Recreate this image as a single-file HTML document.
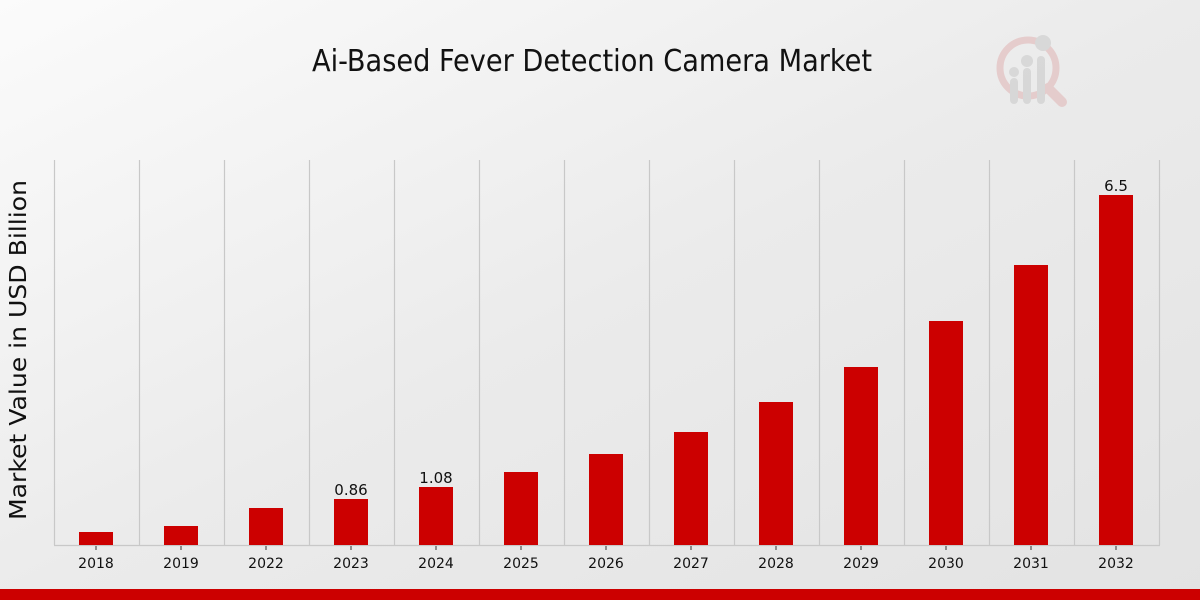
<!DOCTYPE html>
<html><head><meta charset="utf-8"><style>
html,body{margin:0;padding:0;}
body{width:1200px;height:600px;overflow:hidden;background:#eaeaea;font-family:"DejaVu Sans","Liberation Sans",sans-serif;}
</style></head><body>
<svg width="1200" height="600" viewBox="0 0 1200 600" xmlns="http://www.w3.org/2000/svg" style="position:absolute;left:0;top:0">
<defs><linearGradient id="bg" x1="0" y1="0" x2="1" y2="1"><stop offset="0" stop-color="#fbfbfb"/><stop offset="0.5" stop-color="#ebebeb"/><stop offset="1" stop-color="#e3e3e3"/></linearGradient></defs>
<rect width="1200" height="600" fill="url(#bg)"/>
<text x="592" y="71" text-anchor="middle" font-family="DejaVu Sans Condensed, DejaVu Sans, sans-serif" font-stretch="condensed" font-size="30" fill="#111" textLength="560" lengthAdjust="spacingAndGlyphs">Ai-Based Fever Detection Camera Market</text>
<g opacity="0.55">
<circle cx="1028" cy="68" r="28" fill="none" stroke="#e0b3b3" stroke-width="7"/>
<line x1="1048" y1="88" x2="1062" y2="102" stroke="#e0b3b3" stroke-width="10" stroke-linecap="round"/>
<rect x="1010" y="78" width="8" height="26" rx="4" fill="#c8c8c8"/>
<rect x="1023" y="68" width="8" height="36" rx="4" fill="#c8c8c8"/>
<rect x="1037" y="56" width="8" height="48" rx="4" fill="#c8c8c8"/>
<circle cx="1014" cy="72" r="5" fill="#c8c8c8"/><circle cx="1027" cy="61" r="6" fill="#c8c8c8"/><circle cx="1043" cy="43" r="8" fill="#c8c8c8"/>
</g>
<text transform="translate(26,350) rotate(-90)" text-anchor="middle" font-size="23" fill="#111" textLength="340" lengthAdjust="spacingAndGlyphs">Market Value in USD Billion</text>
<g stroke="#c8c8c8" stroke-width="1.2">
<line x1="54.5" y1="160" x2="54.5" y2="545"/><line x1="139.5" y1="160" x2="139.5" y2="545"/><line x1="224.5" y1="160" x2="224.5" y2="545"/><line x1="309.5" y1="160" x2="309.5" y2="545"/><line x1="394.5" y1="160" x2="394.5" y2="545"/><line x1="479.5" y1="160" x2="479.5" y2="545"/><line x1="564.5" y1="160" x2="564.5" y2="545"/><line x1="649.5" y1="160" x2="649.5" y2="545"/><line x1="734.5" y1="160" x2="734.5" y2="545"/><line x1="819.5" y1="160" x2="819.5" y2="545"/><line x1="904.5" y1="160" x2="904.5" y2="545"/><line x1="989.5" y1="160" x2="989.5" y2="545"/><line x1="1074.5" y1="160" x2="1074.5" y2="545"/><line x1="1159.5" y1="160" x2="1159.5" y2="545"/>
<line x1="54" y1="545.5" x2="1160" y2="545.5"/>
</g>
<g fill="#cc0000">
<rect x="79" y="532" width="34" height="13"/>
<rect x="164" y="526" width="34" height="19"/>
<rect x="249" y="508" width="34" height="37"/>
<rect x="334" y="499" width="34" height="46"/>
<rect x="419" y="487" width="34" height="58"/>
<rect x="504" y="472" width="34" height="73"/>
<rect x="589" y="454" width="34" height="91"/>
<rect x="674" y="432" width="34" height="113"/>
<rect x="759" y="402" width="34" height="143"/>
<rect x="844" y="367" width="34" height="178"/>
<rect x="929" y="321" width="34" height="224"/>
<rect x="1014" y="265" width="34" height="280"/>
<rect x="1099" y="195" width="34" height="350"/>
</g>
<g stroke="#333" stroke-width="1">
<line x1="96" y1="546" x2="96" y2="550"/><line x1="181" y1="546" x2="181" y2="550"/><line x1="266" y1="546" x2="266" y2="550"/><line x1="351" y1="546" x2="351" y2="550"/><line x1="436" y1="546" x2="436" y2="550"/><line x1="521" y1="546" x2="521" y2="550"/><line x1="606" y1="546" x2="606" y2="550"/><line x1="691" y1="546" x2="691" y2="550"/><line x1="776" y1="546" x2="776" y2="550"/><line x1="861" y1="546" x2="861" y2="550"/><line x1="946" y1="546" x2="946" y2="550"/><line x1="1031" y1="546" x2="1031" y2="550"/><line x1="1116" y1="546" x2="1116" y2="550"/>
</g>
<g font-size="14" fill="#111" text-anchor="middle">
<text x="96" y="568">2018</text><text x="181" y="568">2019</text><text x="266" y="568">2022</text><text x="351" y="568">2023</text><text x="436" y="568">2024</text><text x="521" y="568">2025</text><text x="606" y="568">2026</text><text x="691" y="568">2027</text><text x="776" y="568">2028</text><text x="861" y="568">2029</text><text x="946" y="568">2030</text><text x="1031" y="568">2031</text><text x="1116" y="568">2032</text>
</g>
<g font-size="15" fill="#111" text-anchor="middle">
<text x="351" y="495">0.86</text><text x="436" y="483">1.08</text><text x="1116" y="191">6.5</text>
</g>
<rect x="0" y="589" width="1200" height="11" fill="#cc0000"/>
</svg>
</body></html>
